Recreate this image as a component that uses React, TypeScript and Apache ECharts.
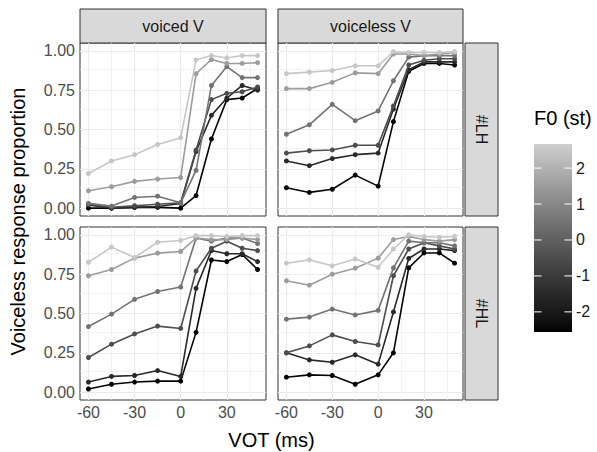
import React, { useEffect, useRef } from "react";
import * as echarts from "echarts";

// ---------- data ----------
const VOT = [-60, -45, -30, -15, 0, 10, 20, 30, 40, 50];
const F0_LEVELS = [-2.5, -1.5, -0.5, 0.5, 1.5, 2.5];
const COL_LABELS = ["voiced V", "voiceless V"];
const ROW_LABELS = ["#LH", "#HL"];
const X_TICKS = [-60, -30, 0, 30];
const X_MINOR = [-45, -15, 15, 45];
const Y_TICKS = [0, 0.25, 0.5, 0.75, 1];
const Y_MINOR = [0.125, 0.375, 0.625, 0.875];
const LEGEND_TICKS = [2, 1, 0, -1, -2];
const LEGEND_MIN = -2.56;
const LEGEND_MAX = 2.67;

// rows: F0 level (darkest -> lightest)
const VOICED_LH = [
  [0.0, 0.0, 0.005, 0.005, 0.0, 0.08, 0.44, 0.69, 0.70, 0.76],
  [0.02, 0.0, 0.005, 0.01, 0.03, 0.36, 0.59, 0.70, 0.78, 0.75],
  [0.025, 0.005, 0.015, 0.025, 0.034, 0.37, 0.69, 0.73, 0.74, 0.77],
  [0.03, 0.013, 0.068, 0.076, 0.034, 0.24, 0.78, 0.90, 0.83, 0.83],
  [0.11, 0.136, 0.17, 0.185, 0.195, 0.855, 0.945, 0.92, 0.92, 0.925],
  [0.22, 0.30, 0.34, 0.405, 0.448, 0.943, 0.97, 0.955, 0.97, 0.97],
];
const VOICELESS_LH = [
  [0.13, 0.10, 0.12, 0.21, 0.14, 0.55, 0.87, 0.92, 0.92, 0.91],
  [0.30, 0.27, 0.315, 0.34, 0.35, 0.63, 0.88, 0.93, 0.93, 0.93],
  [0.35, 0.365, 0.37, 0.40, 0.40, 0.65, 0.91, 0.94, 0.95, 0.95],
  [0.47, 0.53, 0.66, 0.556, 0.618, 0.81, 0.96, 0.97, 0.97, 0.97],
  [0.76, 0.76, 0.80, 0.86, 0.855, 0.98, 0.98, 0.97, 0.98, 0.99],
  [0.855, 0.865, 0.875, 0.905, 0.905, 0.995, 0.99, 0.99, 0.99, 0.995],
];
const VOICED_HL = [
  [0.02, 0.05, 0.064, 0.07, 0.07, 0.38, 0.84, 0.83, 0.875, 0.78],
  [0.064, 0.10, 0.106, 0.137, 0.10, 0.66, 0.90, 0.88, 0.88, 0.83],
  [0.22, 0.305, 0.37, 0.42, 0.405, 0.77, 0.915, 0.96, 0.915, 0.90],
  [0.417, 0.496, 0.59, 0.64, 0.668, 0.98, 0.96, 0.98, 0.98, 0.945],
  [0.74, 0.78, 0.852, 0.884, 0.894, 0.98, 0.97, 0.97, 0.98, 0.97],
  [0.826, 0.922, 0.856, 0.953, 0.964, 0.995, 0.995, 0.99, 0.995, 0.995],
];
const VOICELESS_HL = [
  [0.095, 0.11, 0.106, 0.05, 0.11, 0.25, 0.79, 0.885, 0.885, 0.82],
  [0.25, 0.205, 0.19, 0.237, 0.178, 0.51, 0.85, 0.91, 0.91, 0.90],
  [0.25, 0.294, 0.364, 0.322, 0.30, 0.74, 0.91, 0.95, 0.93, 0.91],
  [0.464, 0.477, 0.528, 0.491, 0.52, 0.79, 0.96, 0.95, 0.95, 0.93],
  [0.708, 0.68, 0.75, 0.788, 0.852, 0.97, 0.99, 0.97, 0.96, 0.97],
  [0.82, 0.841, 0.803, 0.847, 0.794, 0.91, 1.0, 0.99, 0.985, 0.99],
];

// panels in order: TL, TR, BL, BR
const PANEL_DATA = [VOICED_LH, VOICELESS_LH, VOICED_HL, VOICELESS_HL];

// ---------- style / layout ----------
const FONT = "'Liberation Sans', Arial, Helvetica, sans-serif";
const PANEL_LEFT = [80, 278];
const PANEL_W = [186, 185];
const PANEL_TOP = [43, 227];
const PANEL_H = 173;
const STRIP_TOP = 9;
const STRIP_RIGHT_X = 465;
const STRIP_W = 33;
const BAR = { x: 534, y: 144, w: 38, h: 188 };

function grayFor(f0: number): string {
  const t = Math.max(0, Math.min(1, (f0 - LEGEND_MIN) / (LEGEND_MAX - LEGEND_MIN)));
  const L = t * 83;
  const fy = (L + 16) / 116;
  const Y = L > 8 ? fy * fy * fy : L / 903.3;
  const c = Y <= 0.0031308 ? 12.92 * Y : 1.055 * Math.pow(Y, 1 / 2.4) - 0.055;
  const v = Math.round(Math.max(0, Math.min(1, c)) * 255);
  const h = v.toString(16).padStart(2, "0");
  return `#${h}${h}${h}`;
}

function buildOption() {
  const grid: any[] = [];
  const xAxis: any[] = [];
  const yAxis: any[] = [];
  const series: any[] = [];
  const graphic: any[] = [];

  for (let p = 0; p < 4; p++) {
    const r = Math.floor(p / 2);
    const c = p % 2;
    grid.push({
      left: PANEL_LEFT[c],
      top: PANEL_TOP[r],
      width: PANEL_W[c],
      height: PANEL_H,
      show: true,
      backgroundColor: "#ffffff",
      borderColor: "#333333",
      borderWidth: 1,
    });
    const bottom = r === 1;
    const left = c === 0;
    xAxis.push({
      type: "value",
      gridIndex: p,
      min: -65.5,
      max: 55.5,
      axisLine: { show: false },
      splitLine: { show: false },
      axisTick: {
        show: bottom,
        customValues: X_TICKS,
        length: 4,
        lineStyle: { color: "#333333", width: 1 },
      },
      axisLabel: {
        show: bottom,
        customValues: X_TICKS,
        color: "#4d4d4d",
        fontSize: 16,
        fontFamily: FONT,
        margin: 4,
      },
    });
    yAxis.push({
      type: "value",
      gridIndex: p,
      min: -0.05,
      max: 1.05,
      axisLine: { show: false },
      splitLine: { show: false },
      axisTick: {
        show: left,
        customValues: Y_TICKS,
        length: 4,
        lineStyle: { color: "#333333", width: 1 },
      },
      axisLabel: {
        show: left,
        customValues: Y_TICKS,
        color: "#4d4d4d",
        fontSize: 16,
        fontFamily: FONT,
        margin: 5,
        formatter: (v: number) => v.toFixed(2),
      },
    });

    // grid lines through the axis scales (kept underneath the data)
    const ml: any[] = [];
    X_MINOR.forEach((v) => ml.push({ xAxis: v, lineStyle: { width: 0.6 } }));
    Y_MINOR.forEach((v) => ml.push({ yAxis: v, lineStyle: { width: 0.6 } }));
    X_TICKS.forEach((v) => ml.push({ xAxis: v, lineStyle: { width: 1.2 } }));
    Y_TICKS.forEach((v) => ml.push({ yAxis: v, lineStyle: { width: 1.2 } }));
    series.push({
      type: "line",
      xAxisIndex: p,
      yAxisIndex: p,
      data: [],
      z: 1,
      silent: true,
      markLine: {
        z: 1,
        silent: true,
        symbol: ["none", "none"],
        label: { show: false },
        lineStyle: { color: "#ebebeb", type: "solid" },
        data: ml,
      },
    });

    PANEL_DATA[p].forEach((vals, k) => {
      const col = grayFor(F0_LEVELS[k]);
      series.push({
        type: "line",
        name: `F0 ${F0_LEVELS[k]}`,
        xAxisIndex: p,
        yAxisIndex: p,
        data: VOT.map((x, i) => [x, vals[i]]),
        symbol: "circle",
        symbolSize: 5,
        showSymbol: true,
        showAllSymbol: true,
        lineStyle: { color: col, width: 1.6 },
        itemStyle: { color: col, borderWidth: 0 },
        emphasis: { disabled: true },
        silent: true,
        z: 3 + k,
      });
    });
  }

  // column strips
  for (let c = 0; c < 2; c++) {
    graphic.push({
      type: "rect",
      shape: { x: PANEL_LEFT[c], y: STRIP_TOP, width: PANEL_W[c], height: PANEL_TOP[0] - STRIP_TOP },
      style: { fill: "#d9d9d9", stroke: "#333333", lineWidth: 1 },
    });
    graphic.push({
      type: "text",
      x: PANEL_LEFT[c] + PANEL_W[c] / 2,
      y: (STRIP_TOP + PANEL_TOP[0]) / 2,
      style: {
        text: COL_LABELS[c],
        fill: "#1a1a1a",
        fontSize: 16,
        fontFamily: FONT,
        align: "center",
        verticalAlign: "middle",
        textAlign: "center",
        textVerticalAlign: "middle",
      },
    });
  }
  // row strips
  for (let r = 0; r < 2; r++) {
    graphic.push({
      type: "rect",
      shape: { x: STRIP_RIGHT_X, y: PANEL_TOP[r], width: STRIP_W, height: PANEL_H },
      style: { fill: "#d9d9d9", stroke: "#333333", lineWidth: 1 },
    });
    graphic.push({
      type: "text",
      x: STRIP_RIGHT_X + STRIP_W / 2,
      y: PANEL_TOP[r] + PANEL_H / 2,
      rotation: -Math.PI / 2,
      style: {
        text: ROW_LABELS[r],
        fill: "#1a1a1a",
        fontSize: 16,
        fontFamily: FONT,
        align: "center",
        verticalAlign: "middle",
        textAlign: "center",
        textVerticalAlign: "middle",
      },
    });
  }

  // axis titles
  graphic.push({
    type: "text",
    x: (PANEL_LEFT[0] + PANEL_LEFT[1] + PANEL_W[1]) / 2,
    y: 440,
    style: {
      text: "VOT (ms)",
      fill: "#000000",
      fontSize: 20,
      fontFamily: FONT,
      align: "center",
      verticalAlign: "middle",
      textAlign: "center",
      textVerticalAlign: "middle",
    },
  });
  graphic.push({
    type: "text",
    x: 18,
    y: (PANEL_TOP[0] + PANEL_TOP[1] + PANEL_H) / 2,
    rotation: Math.PI / 2,
    style: {
      text: "Voiceless response proportion",
      fill: "#000000",
      fontSize: 20,
      fontFamily: FONT,
      align: "center",
      verticalAlign: "middle",
      textAlign: "center",
      textVerticalAlign: "middle",
    },
  });

  // colour bar legend
  const stops: any[] = [];
  const N = 24;
  for (let i = 0; i <= N; i++) {
    const f = LEGEND_MAX - (i / N) * (LEGEND_MAX - LEGEND_MIN);
    stops.push({ offset: i / N, color: grayFor(f) });
  }
  graphic.push({
    type: "text",
    x: BAR.x,
    y: 118,
    style: {
      text: "F0 (st)",
      fill: "#000000",
      fontSize: 20,
      fontFamily: FONT,
      align: "left",
      verticalAlign: "middle",
      textAlign: "left",
      textVerticalAlign: "middle",
    },
  });
  graphic.push({
    type: "rect",
    shape: { x: BAR.x, y: BAR.y, width: BAR.w, height: BAR.h },
    style: {
      fill: { type: "linear", x: 0, y: 0, x2: 0, y2: 1, colorStops: stops },
    },
  });
  const pxPer = BAR.h / (LEGEND_MAX - LEGEND_MIN);
  LEGEND_TICKS.forEach((t) => {
    const yy = BAR.y + (LEGEND_MAX - t) * pxPer;
    graphic.push({
      type: "line",
      shape: { x1: BAR.x, y1: yy, x2: BAR.x + BAR.w / 5, y2: yy },
      style: { stroke: "#ffffff", lineWidth: 1 },
    });
    graphic.push({
      type: "line",
      shape: { x1: BAR.x + BAR.w - BAR.w / 5, y1: yy, x2: BAR.x + BAR.w, y2: yy },
      style: { stroke: "#ffffff", lineWidth: 1 },
    });
    graphic.push({
      type: "text",
      x: BAR.x + BAR.w + 4,
      y: yy,
      style: {
        text: String(t),
        fill: "#1a1a1a",
        fontSize: 16,
        fontFamily: FONT,
        align: "left",
        verticalAlign: "middle",
        textAlign: "left",
        textVerticalAlign: "middle",
      },
    });
  });

  return {
    animation: false,
    backgroundColor: "#ffffff",
    grid,
    xAxis,
    yAxis,
    series,
    graphic: { elements: graphic },
  };
}

export default function App() {
  const ref = useRef<HTMLDivElement | null>(null);
  useEffect(() => {
    if (!ref.current) return;
    const chart = echarts.init(ref.current, null, { renderer: "svg" });
    chart.setOption(buildOption() as any);
    return () => chart.dispose();
  }, []);
  return (
    <div
      ref={ref}
      style={{ position: "fixed", left: 0, top: 0, width: 597, height: 452, background: "#fff" }}
    />
  );
}
